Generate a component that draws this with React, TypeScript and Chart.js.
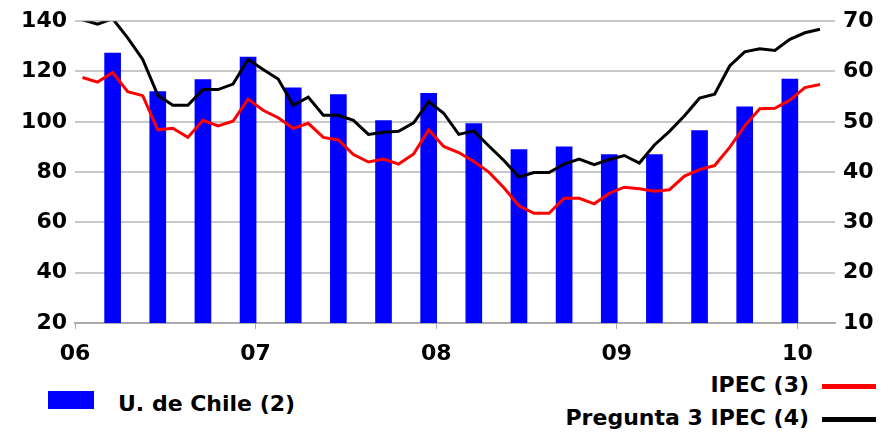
import { useEffect, useRef } from 'react'
import Chart from 'chart.js/auto'

// índice mensual 0 = ene 2006
const YEAR_LABELS = ['06', '07', '08', '09', '10']
const BAR_MONTHS = [2, 5, 8, 11, 14, 17, 20, 23, 26, 29, 32, 35, 38, 41, 44, 47]
const UCHILE = [127.3, 112, 116.8, 125.7, 113.5, 110.8, 100.5, 111.3, 99.3, 89, 90, 87, 87, 96.5, 106, 117]
const IPEC = [
  58.8, 57.9, 59.8, 56, 55.2, 48.4, 48.7, 46.9, 50.3, 49.2, 50.1, 54.5, 52.3, 50.8, 48.7, 49.7, 46.9, 46.4, 43.5,
  42, 42.6, 41.6, 43.6, 48.4, 45.1, 43.9, 42.1, 40, 36.9, 33.3, 31.8, 31.8, 34.8, 34.8, 33.7,
  35.8, 37, 36.7, 36.2, 36.5, 39.2, 40.5, 41.3, 44.9, 49.2, 52.6, 52.7, 54.3, 56.8, 57.4,
]
const PREGUNTA3 = [
  70.3, 69.4, 70.5, 66.7, 62.4, 55.3, 53.3, 53.3, 56.4, 56.4, 57.5, 62.4, 60.4, 58.5, 53.3, 54.9, 51.3, 51.3, 50.3,
  47.5, 47.9, 48.1, 49.8, 54, 51.7, 47.5, 48.2, 45.2, 42.3, 39, 39.9, 39.9, 41.6, 42.6, 41.5,
  42.5, 43.3, 41.8, 45.4, 48.1, 51.2, 54.7, 55.5, 61.1, 63.9, 64.5, 64.2, 66.4, 67.7, 68.4,
]

const FONT = '"DejaVu Sans", sans-serif'

export default function App() {
  const canvasRef = useRef<HTMLCanvasElement>(null)

  useEffect(() => {
    const canvas = canvasRef.current
    if (!canvas) return
    const tickFont = { family: FONT, size: 22, weight: 'bold' }
    const chart = new Chart(canvas, {
      type: 'bar',
      data: {
        datasets: [
          {
            type: 'bar',
            label: 'U. de Chile (2)',
            data: BAR_MONTHS.map((m, i) => ({ x: m, y: UCHILE[i] })),
            backgroundColor: '#0000ff',
            barThickness: 16,
            yAxisID: 'y',
            order: 2,
          },
          {
            type: 'line',
            label: 'IPEC (3)',
            data: IPEC.map((v, i) => ({ x: i, y: v })),
            borderColor: '#ff0000',
            borderWidth: 3,
            pointRadius: 0,
            yAxisID: 'y2',
            order: 1,
          },
          {
            type: 'line',
            label: 'Pregunta 3 IPEC (4)',
            data: PREGUNTA3.map((v, i) => ({ x: i, y: v })),
            borderColor: '#000000',
            borderWidth: 3,
            pointRadius: 0,
            yAxisID: 'y2',
            order: 0,
          },
        ],
      },
      options: {
        animation: false,
        responsive: true,
        maintainAspectRatio: false,
        layout: { padding: { top: 20, left: 0, right: 0 } },
        plugins: { legend: { display: false }, tooltip: { enabled: false } },
        scales: {
          x: {
            type: 'linear',
            min: -0.5,
            max: 50,
            offset: false,
            afterFit: (s: any) => { s.height = 42 },
            afterBuildTicks: (s: any) => { s.ticks = YEAR_LABELS.map((_, i) => ({ value: -0.5 + 12 * i })) },
            ticks: {
              color: '#000',
              font: tickFont,
              padding: 12,
              callback: (v: any) => YEAR_LABELS[Math.round((Number(v) + 0.5) / 12)] ?? '',
            },
            grid: { drawOnChartArea: false, offset: false, color: '#aaaaaa', tickLength: 6 },
            border: { color: '#aaaaaa', width: 2 },
          },
          y: {
            position: 'left',
            min: 20,
            max: 140,
            afterFit: (s: any) => { s.width = 75 },
            ticks: { stepSize: 20, color: '#000', font: tickFont, padding: 8 },
            grid: { color: '#c8c8c8', lineWidth: 2, drawTicks: false },
            border: { display: false },
          },
          y2: {
            position: 'right',
            min: 10,
            max: 70,
            afterFit: (s: any) => { s.width = 54 },
            ticks: { stepSize: 10, color: '#000', font: tickFont, padding: 8 },
            grid: { drawOnChartArea: false, drawTicks: false },
            border: { display: false },
          },
        },
      },
    } as any)
    return () => chart.destroy()
  }, [])

  const text = { fontFamily: FONT, fontSize: 22, fontWeight: 'bold' as const, color: '#000' }
  return (
    <div style={{ position: 'absolute', left: 0, top: 0, width: 889, height: 435, background: '#fff' }}>
      <div style={{ position: 'absolute', left: 0, top: 0, width: 889, height: 365 }}>
        <canvas ref={canvasRef} />
      </div>
      <div style={{ position: 'absolute', left: 48, top: 391, width: 46, height: 18, background: '#0000ff' }} />
      <div style={{ ...text, position: 'absolute', left: 118, top: 391 }}>U. de Chile (2)</div>
      <div style={{ ...text, position: 'absolute', right: 80, top: 372 }}>IPEC (3)</div>
      <div style={{ position: 'absolute', left: 822, top: 384, width: 54, height: 5, background: '#ff0000' }} />
      <div style={{ ...text, position: 'absolute', right: 80, top: 405 }}>Pregunta 3 IPEC (4)</div>
      <div style={{ position: 'absolute', left: 822, top: 417, width: 54, height: 5, background: '#000' }} />
    </div>
  )
}
